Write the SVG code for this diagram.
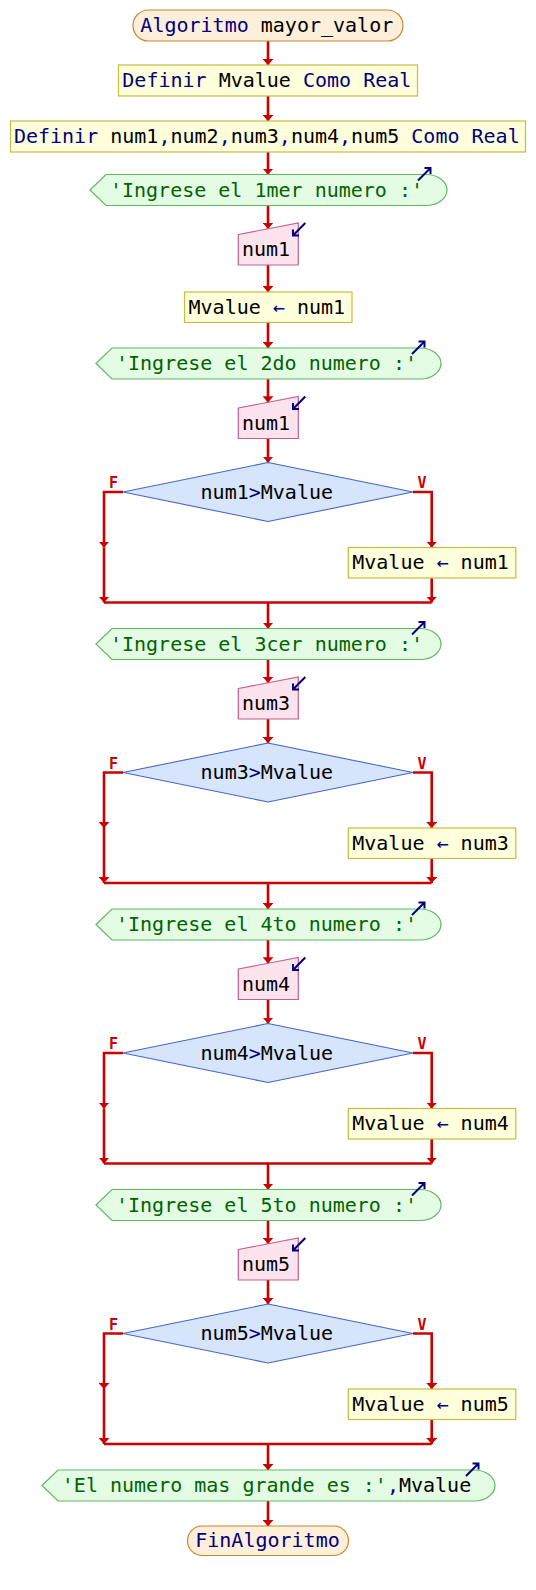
<svg xmlns="http://www.w3.org/2000/svg" width="536" height="1590" viewBox="0 0 536 1590">
<style>
text{font-family:"DejaVu Sans Mono","Liberation Mono",monospace;font-size:20px;fill:#000;text-anchor:middle}
.k{fill:#000080}
.s{fill:#006400}
.fv{font-size:15px;font-weight:bold;fill:#cc0000}
.term{fill:#fdefd9;stroke:#c8882e;stroke-width:1.2}
.proc{fill:#ffffdc;stroke:#c4bc44;stroke-width:1.2}
.out{fill:#e4fce4;stroke:#62b862;stroke-width:1.2}
.inp{fill:#fde3ee;stroke:#c0608e;stroke-width:1.2}
.dec{fill:#d6e5fb;stroke:#4566c8;stroke-width:1.1}
.ico{fill:none;stroke:#000080;stroke-width:2}
#conn path{fill:none;stroke:#cc0000;stroke-width:2.6;marker-end:url(#ah)}
#conn path.nm{marker-end:none}
</style>
<defs>
<marker id="ah" markerUnits="userSpaceOnUse" markerWidth="6" markerHeight="11" viewBox="0 0 6 11" refX="6" refY="5.5" orient="auto">
<path d="M0,0 L6,5.5 L0,11 Z" fill="#cc0000"/>
</marker>
</defs>

<g id="conn">
<path d="M268,41 V65"/>
<path d="M268,96 V121"/>
<path d="M268,152 V174.5"/>
<path d="M268,205.5 V228.8"/>
<path d="M268,265 V292"/>
<path d="M268,322.5 V348"/>
<!-- block 2 -->
<path d="M268,379 V402.3"/>
<path d="M268,438.5 V462.5"/>
<path d="M123,492 H104 V547.5"/>
<path d="M104,547.5 V602.5"/>
<path d="M413,492 H431.7 V547.5"/>
<path d="M431.7,578 V602.5"/>
<path class="nm" d="M104,602.5 H431.7"/>
<path d="M268,602.5 V628.5"/>
<!-- block 3 -->
<path d="M268,659.5 V682.8"/>
<path d="M268,719 V743"/>
<path d="M123,772.5 H104 V828"/>
<path d="M104,828 V883"/>
<path d="M413,772.5 H431.7 V828"/>
<path d="M431.7,858.5 V883"/>
<path class="nm" d="M104,883 H431.7"/>
<path d="M268,883 V909"/>
<!-- block 4 -->
<path d="M268,940 V963.3"/>
<path d="M268,999.5 V1023.5"/>
<path d="M123,1053 H104 V1108.5"/>
<path d="M104,1108.5 V1163.5"/>
<path d="M413,1053 H431.7 V1108.5"/>
<path d="M431.7,1139 V1163.5"/>
<path class="nm" d="M104,1163.5 H431.7"/>
<path d="M268,1163.5 V1189.5"/>
<!-- block 5 -->
<path d="M268,1220.5 V1243.8"/>
<path d="M268,1280 V1304"/>
<path d="M123,1333.5 H104 V1389"/>
<path d="M104,1389 V1444"/>
<path d="M413,1333.5 H431.7 V1389"/>
<path d="M431.7,1419.5 V1444"/>
<path class="nm" d="M104,1444 H431.7"/>
<path d="M268,1444 V1470"/>
<path d="M268,1501 V1526"/>
</g>

<g id="start">
<rect class="term" x="133" y="10" width="270" height="31" rx="15.5"/>
<text x="266.8" y="32"><tspan class="k">Algoritmo</tspan> mayor_valor</text>
</g>
<g id="def1">
<rect class="proc" x="118.5" y="65" width="299" height="31"/>
<text x="266.8" y="87"><tspan class="k">Definir</tspan> Mvalue <tspan class="k">Como Real</tspan></text>
</g>
<g id="def2">
<rect class="proc" x="10.5" y="121" width="515" height="31"/>
<text x="266.8" y="143"><tspan class="k">Definir</tspan> num1<tspan class="k">,</tspan>num2<tspan class="k">,</tspan>num3<tspan class="k">,</tspan>num4<tspan class="k">,</tspan>num5 <tspan class="k">Como Real</tspan></text>
</g>

<g id="out1">
<path class="out" d="M90,190 L106,174.5 H426 A21,15.5 0 0 1 426,205.5 H106 Z"/>
<text class="s" x="266.5" y="196.5">'Ingrese el 1mer numero :'</text>
<path class="ico" d="M418,180.5 L430.5,168 M424.5,168 H430.5 V174"/>
</g>
<g id="in1">
<polygon class="inp" points="238.3,234.5 298.3,223 298.3,265 238.3,265"/>
<text x="266" y="256">num1</text>
<path class="ico" d="M305.3,223 L293,235.5 M293,229.5 V235.5 H299"/>
</g>
<g id="asg1">
<rect class="proc" x="184.5" y="292" width="167.5" height="30.5"/>
<text x="266.8" y="313.7">Mvalue <tspan class="k">←</tspan> num1</text>
</g>

<!-- block 2 -->
<g id="out2">
<path class="out" d="M96,363.5 L112,348 H420 A21,15.5 0 0 1 420,379 H112 Z"/>
<text class="s" x="266.5" y="370">'Ingrese el 2do numero :'</text>
<path class="ico" d="M412,354 L424.5,341.5 M418.5,341.5 H424.5 V347.5"/>
</g>
<g id="in2">
<polygon class="inp" points="238.3,408 298.3,396.5 298.3,438.5 238.3,438.5"/>
<text x="266" y="429.5">num1</text>
<path class="ico" d="M305.3,396.5 L293,409 M293,403 V409 H299"/>
</g>
<g id="dec2">
<polygon class="dec" points="268,462.5 413,492 268,521.5 123,492"/>
<text x="266.8" y="498.5">num1<tspan class="k">&gt;</tspan>Mvalue</text>
<text class="fv" x="113.5" y="488">F</text>
<text class="fv" x="422" y="488">V</text>
</g>
<g id="asg2">
<rect class="proc" x="348.3" y="547.5" width="167.5" height="30.5"/>
<text x="430.5" y="569.3">Mvalue <tspan class="k">←</tspan> num1</text>
</g>

<!-- block 3 -->
<g id="out3">
<path class="out" d="M96,644 L112,628.5 H420 A21,15.5 0 0 1 420,659.5 H112 Z"/>
<text class="s" x="266.5" y="650.5">'Ingrese el 3cer numero :'</text>
<path class="ico" d="M412,634.5 L424.5,622 M418.5,622 H424.5 V628"/>
</g>
<g id="in3">
<polygon class="inp" points="238.3,688.5 298.3,677 298.3,719 238.3,719"/>
<text x="266" y="710">num3</text>
<path class="ico" d="M305.3,677 L293,689.5 M293,683.5 V689.5 H299"/>
</g>
<g id="dec3">
<polygon class="dec" points="268,743 413,772.5 268,802 123,772.5"/>
<text x="266.8" y="779">num3<tspan class="k">&gt;</tspan>Mvalue</text>
<text class="fv" x="113.5" y="768.5">F</text>
<text class="fv" x="422" y="768.5">V</text>
</g>
<g id="asg3">
<rect class="proc" x="348.3" y="828" width="167.5" height="30.5"/>
<text x="430.5" y="849.8">Mvalue <tspan class="k">←</tspan> num3</text>
</g>

<!-- block 4 -->
<g id="out4">
<path class="out" d="M96,924.5 L112,909 H420 A21,15.5 0 0 1 420,940 H112 Z"/>
<text class="s" x="266.5" y="931">'Ingrese el 4to numero :'</text>
<path class="ico" d="M412,915 L424.5,902.5 M418.5,902.5 H424.5 V908.5"/>
</g>
<g id="in4">
<polygon class="inp" points="238.3,969 298.3,957.5 298.3,999.5 238.3,999.5"/>
<text x="266" y="990.5">num4</text>
<path class="ico" d="M305.3,957.5 L293,970 M293,964 V970 H299"/>
</g>
<g id="dec4">
<polygon class="dec" points="268,1023.5 413,1053 268,1082.5 123,1053"/>
<text x="266.8" y="1059.5">num4<tspan class="k">&gt;</tspan>Mvalue</text>
<text class="fv" x="113.5" y="1049">F</text>
<text class="fv" x="422" y="1049">V</text>
</g>
<g id="asg4">
<rect class="proc" x="348.3" y="1108.5" width="167.5" height="30.5"/>
<text x="430.5" y="1130.3">Mvalue <tspan class="k">←</tspan> num4</text>
</g>

<!-- block 5 -->
<g id="out5">
<path class="out" d="M96,1205 L112,1189.5 H420 A21,15.5 0 0 1 420,1220.5 H112 Z"/>
<text class="s" x="266.5" y="1211.5">'Ingrese el 5to numero :'</text>
<path class="ico" d="M412,1195.5 L424.5,1183 M418.5,1183 H424.5 V1189"/>
</g>
<g id="in5">
<polygon class="inp" points="238.3,1249.5 298.3,1238 298.3,1280 238.3,1280"/>
<text x="266" y="1271">num5</text>
<path class="ico" d="M305.3,1238 L293,1250.5 M293,1244.5 V1250.5 H299"/>
</g>
<g id="dec5">
<polygon class="dec" points="268,1304 413,1333.5 268,1363 123,1333.5"/>
<text x="266.8" y="1340">num5<tspan class="k">&gt;</tspan>Mvalue</text>
<text class="fv" x="113.5" y="1329.5">F</text>
<text class="fv" x="422" y="1329.5">V</text>
</g>
<g id="asg5">
<rect class="proc" x="348.3" y="1389" width="167.5" height="30.5"/>
<text x="430.5" y="1410.8">Mvalue <tspan class="k">←</tspan> num5</text>
</g>

<g id="outFinal">
<path class="out" d="M42,1485.5 L58,1470 H474 A21,15.5 0 0 1 474,1501 H58 Z"/>
<text x="266.5" y="1492"><tspan class="s">'El numero mas grande es :'</tspan><tspan class="k">,</tspan>Mvalue</text>
<path class="ico" d="M466,1476 L478.5,1463.5 M472.5,1463.5 H478.5 V1469.5"/>
</g>
<g id="end">
<rect class="term" x="187.5" y="1526" width="161" height="29.5" rx="14.75"/>
<text x="267.5" y="1547" class="k">FinAlgoritmo</text>
</g>
</svg>
